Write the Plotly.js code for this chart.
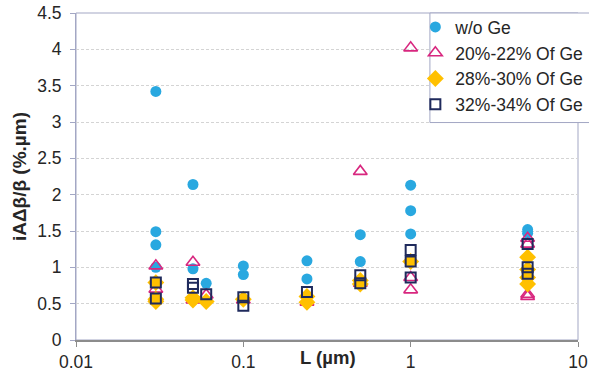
<!DOCTYPE html>
<html>
<head>
<meta charset="utf-8">
<script src="https://cdn.plot.ly/plotly-3.0.1.min.js"></script>
<style>html,body{margin:0;padding:0;background:#fff;}#chart{width:589px;height:378px;}</style>
</head>
<body>
<div id="chart"></div>
<script>
// Data (L in µm, iAΔβ/β in %.µm)
const seriesNames = ["w/o Ge", "20%-22% Of Ge", "28%-30% Of Ge", "32%-34% Of Ge"];

const woGe_L   = [0.03, 0.03, 0.03, 0.03, 0.05, 0.05, 0.06, 0.1, 0.1, 0.24, 0.24, 0.5, 0.5, 1, 1, 1, 5, 5];
const woGe_val = [3.42, 1.49, 1.31, 1.00, 2.14, 0.98, 0.78, 1.02, 0.90, 1.09, 0.84, 1.45, 1.08, 2.13, 1.78, 1.46, 1.52, 1.47];

const ge20_L   = [0.03, 0.03, 0.03, 0.05, 0.05, 0.06, 0.1, 0.24, 0.5, 0.5, 1, 1, 1, 5, 5, 5, 5];
const ge20_val = [1.02, 0.70, 0.58, 1.07, 0.55, 0.62, 0.55, 0.52, 2.32, 0.78, 4.02, 0.86, 0.69, 1.40, 1.32, 0.63, 0.60];

const ge28_L   = [0.03, 0.03, 0.03, 0.05, 0.05, 0.06, 0.1, 0.24, 0.24, 0.5, 0.5, 1, 5, 5, 5, 5];
const ge28_val = [0.79, 0.56, 0.53, 0.58, 0.55, 0.53, 0.56, 0.60, 0.52, 0.82, 0.77, 1.08, 1.14, 0.97, 0.86, 0.77];

const ge32_L   = [0.03, 0.03, 0.05, 0.05, 0.06, 0.1, 0.1, 0.24, 0.5, 0.5, 1, 1, 1, 5, 5, 5];
const ge32_val = [0.79, 0.57, 0.77, 0.72, 0.63, 0.59, 0.47, 0.66, 0.89, 0.78, 1.24, 1.08, 0.86, 1.32, 1.00, 0.91];

const xTickVals = [0.01, 0.1, 1, 10];
const xTickText = ["0.01", "0.1", "1", "10"];
const xTitle = "L (µm)";
const yTitle = "iAΔβ/β (%.µm)";

const FONT = "Liberation Sans, Arial, sans-serif";

const traces = [
  {x: woGe_L, y: woGe_val, name: seriesNames[0], type: "scatter", mode: "markers",
   marker: {symbol: "circle", size: 11, color: "#29a8e0", line: {width: 0}}},
  {x: ge20_L, y: ge20_val, name: seriesNames[1], type: "scatter", mode: "markers",
   marker: {symbol: "triangle-up-open", size: 12, color: "#d8277f", line: {width: 1.6, color: "#d8277f"}}},
  {x: ge28_L, y: ge28_val, name: seriesNames[2], type: "scatter", mode: "markers",
   marker: {symbol: "diamond", size: 13, color: "#ffc000", line: {width: 0}}},
  {x: ge32_L, y: ge32_val, name: seriesNames[3], type: "scatter", mode: "markers",
   marker: {symbol: "square-open", size: 10, color: "#1f2a5c", line: {width: 2, color: "#1f2a5c"}}}
];

const layout = {
  width: 589, height: 378,
  margin: {l: 76, r: 11, t: 13, b: 38, autoexpand: false},
  paper_bgcolor: "#fff", plot_bgcolor: "#fff",
  font: {family: FONT, size: 17, color: "#262626"},
  showlegend: true,
  legend: {x: 0.676, y: 1.012, xanchor: "left", yanchor: "top",
           bgcolor: "rgba(255,255,255,0)", borderwidth: 0,
           font: {family: FONT, size: 17.5, color: "#262626"},
           itemwidth: 30, tracegroupgap: 0},
  xaxis: {type: "log", range: [-2, 1], tickvals: xTickVals, ticktext: xTickText,
          showgrid: false, zeroline: false, showline: true, linecolor: "#8c8c8c", linewidth: 2,
          ticks: "outside", ticklen: 5, tickcolor: "#8c8c8c", tickwidth: 1,
          tickfont: {family: FONT, size: 17.5, color: "#262626"}},
  yaxis: {range: [0, 4.5], dtick: 0.5, tick0: 0,
          showgrid: true, gridcolor: "#d4d4d4", griddash: "3px,2px", gridwidth: 1,
          zeroline: false, showline: true, linecolor: "#a3a7c4", linewidth: 1,
          ticks: "outside", ticklen: 5, tickcolor: "#a3a7c4",
          ticklabelstandoff: 5,
          tickfont: {family: FONT, size: 17.5, color: "#262626"},
          title: {text: yTitle, standoff: 5, font: {family: FONT, size: 19, weight: "bold", color: "#262626"}}},
  shapes: [
    {type: "rect", xref: "paper", yref: "paper", x0: 0, x1: 1, y0: 0, y1: 1,
     line: {color: "#a3a7c4", width: 1}, layer: "below"},
    {type: "rect", xref: "paper", yref: "paper", x0: 0.705, x1: 1.05, y0: 0.665, y1: 1,
     line: {color: "#a3a7c4", width: 1}, fillcolor: "#ffffff", layer: "above"}
  ],
  annotations: [
    {text: xTitle, xref: "paper", yref: "paper", x: 0.502, y: 0, xanchor: "center", yanchor: "middle",
     yshift: -17, showarrow: false, font: {family: FONT, size: 18.5, weight: "bold", color: "#262626"}}
  ]
};

Plotly.newPlot("chart", traces, layout, {staticPlot: true, displayModeBar: false});
</script>
</body>
</html>
